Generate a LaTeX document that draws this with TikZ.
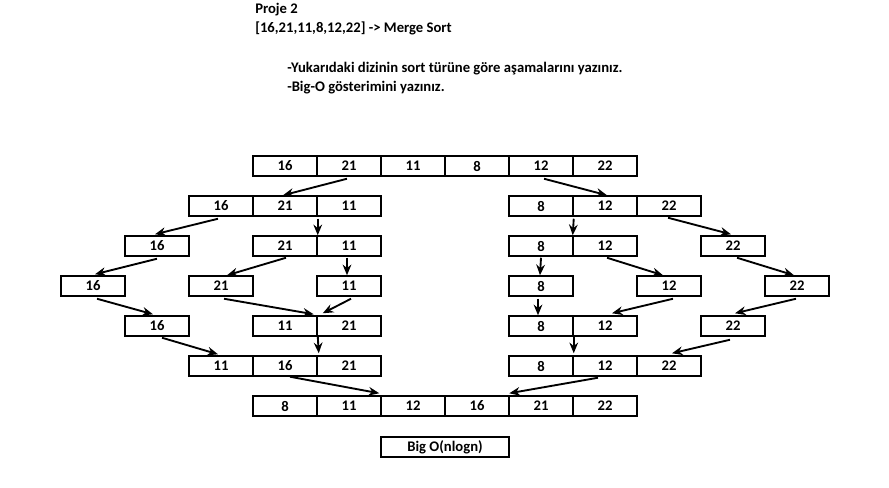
\documentclass[tikz,border=0pt]{standalone}
\usepackage{fontspec}
\setmainfont{Carlito}
\usetikzlibrary{arrows.meta,calc}
\tikzset{
  cell/.style={draw, line width=1.1pt, minimum width=48pt, minimum height=15pt, inner sep=0pt, font=\bfseries\fontsize{11}{13}\selectfont},
  arr/.style={-{Stealth[length=8pt,width=6.5pt]}, line width=1.4pt},
  ttl/.style={anchor=base west, inner sep=0pt, font=\bfseries\fontsize{11}{13}\selectfont}
}
\newcommand\cellbox[3]{\node[cell] (r#1c#2) at ({93+64*#2},{166+40*#1}) {#3};}
\begin{document}
\begin{tikzpicture}[x=0.75pt,y=-0.75pt]
\path[use as bounding box, fill=white] (0,0) rectangle (889,487);
\node[ttl] (t1) at (255,13) {Proje 2};
\node[ttl] (t2) at (255,32) {[16,21,11,8,12,22] -> Merge Sort};
\node[ttl] (t3) at (287,72) {-Yukarıdaki dizinin sort türüne göre aşamalarını yazınız.};
\node[ttl] (t4) at (287,91) {-Big-O gösterimini yazınız.};
% row 0
\cellbox{0}{3}{16}\cellbox{0}{4}{21}\cellbox{0}{5}{11}\cellbox{0}{6}{8}\cellbox{0}{7}{12}\cellbox{0}{8}{22}
% row 1
\cellbox{1}{2}{16}\cellbox{1}{3}{21}\cellbox{1}{4}{11}\cellbox{1}{7}{8}\cellbox{1}{8}{12}\cellbox{1}{9}{22}
% row 2
\cellbox{2}{1}{16}\cellbox{2}{3}{21}\cellbox{2}{4}{11}\cellbox{2}{7}{8}\cellbox{2}{8}{12}\cellbox{2}{10}{22}
% row 3
\cellbox{3}{0}{16}\cellbox{3}{2}{21}\cellbox{3}{4}{11}\cellbox{3}{7}{8}\cellbox{3}{9}{12}\cellbox{3}{11}{22}
% row 4
\cellbox{4}{1}{16}\cellbox{4}{3}{11}\cellbox{4}{4}{21}\cellbox{4}{7}{8}\cellbox{4}{8}{12}\cellbox{4}{10}{22}
% row 5
\cellbox{5}{2}{11}\cellbox{5}{3}{16}\cellbox{5}{4}{21}\cellbox{5}{7}{8}\cellbox{5}{8}{12}\cellbox{5}{9}{22}
% row 6
\cellbox{6}{3}{8}\cellbox{6}{4}{11}\cellbox{6}{5}{12}\cellbox{6}{6}{16}\cellbox{6}{7}{21}\cellbox{6}{8}{22}
% Big O
\node[cell, minimum width=96pt] (bigo) at (445,447) {Big O(nlogn)};
% arrows
\draw[arr] ($(r0c4.south)+(-2,2)$) -- ($(r1c3.north)+(-2,0)$);
\draw[arr] ($(r0c7.south)+(3,2)$) -- ($(r1c8.north)+(2,0)$);
\draw[arr] ($(r1c2.south)+(-3,2)$) -- ($(r2c1.north)+(-2,-1)$);
\draw[arr] ($(r1c3.south east)+(0,2)$) -- (r2c3.north east);
\draw[arr] ($(r1c7.south east)+(0,2)$) -- ($(r2c7.north east)+(-1,0)$);
\draw[arr] ($(r1c9.south)+(-1,1)$) -- ($(r2c10.north)+(-2,-1)$);
\draw[arr] ($(r2c1.south)+(0,2)$) -- ($(r3c0.north)+(2,-1)$);
\draw[arr] ($(r2c3.south)+(1,1)$) -- ($(r3c2.north)+(6,0)$);
\draw[arr] ($(r2c4.south)+(-2,1)$) -- ($(r3c4.north)+(-2,0)$);
\draw[arr] ($(r2c7.south)+(0,1)$) -- ($(r3c7.north)+(-1,0)$);
\draw[arr] ($(r2c8.south)+(2,1)$) -- ($(r3c9.north)+(-6,0)$);
\draw[arr] ($(r2c10.south)+(4,1)$) -- ($(r3c11.north)+(-3,0)$);
\draw[arr] ($(r3c0.south)+(4,2)$) -- ($(r4c1.north)+(-4,-1)$);
\draw[arr] ($(r3c2.south)+(3,2)$) -- ($(r4c3.north east)+(-4,-1)$);
\draw[arr] ($(r3c4.south)+(2,2)$) -- ($(r4c3.north east)+(5,-2)$);
\draw[arr] ($(r3c7.south)+(-3,2)$) -- ($(r4c7.north)+(-3,0)$);
\draw[arr] ($(r3c9.south)+(4,2)$) -- ($(r4c8.north)+(7,-2)$);
\draw[arr] ($(r3c11.south)+(-1,2)$) -- ($(r4c10.north)+(2,-2)$);
\draw[arr] ($(r4c1.south)+(5,1)$) -- ($(r5c2.north)+(-3,-1)$);
\draw[arr] ($(r4c3.south east)+(0,-1)$) -- ($(r5c3.north east)+(1,-2)$);
\draw[arr] ($(r4c7.south east)+(0,-1)$) -- ($(r5c7.north east)+(0,-2)$);
\draw[arr] ($(r4c10.south)+(-3,3)$) -- ($(r5c9.north)+(3,-2)$);
\draw[arr] ($(r5c3.south)+(5,0)$) -- ($(r6c5.north west)+(-1,-2)$);
\draw[arr] ($(r5c8.south)+(-7,1)$) -- ($(r6c7.north west)+(1,-2)$);
\end{tikzpicture}
\end{document}
